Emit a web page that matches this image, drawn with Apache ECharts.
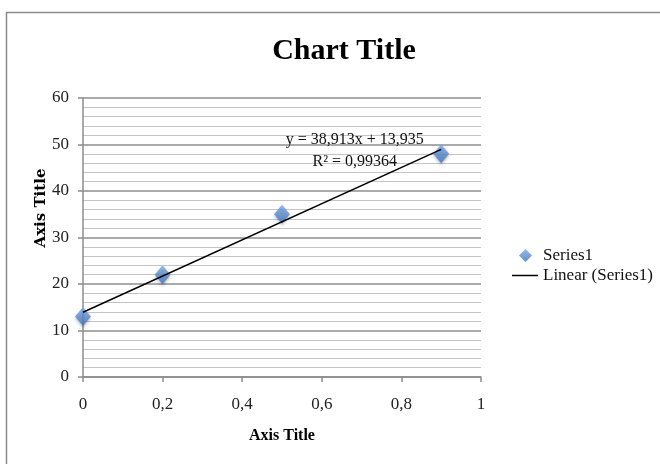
<!DOCTYPE html>
<html>
<head>
<meta charset="utf-8">
<script src="https://cdn.jsdelivr.net/npm/echarts@6/dist/echarts.min.js"></script>
<style>
  html, body { margin: 0; padding: 0; background: #fff; }
  #chart { width: 660px; height: 464px; }
</style>
</head>
<body>
<div id="chart"></div>
<script>
// ---- data ----
const xValues = [0, 0.2, 0.5, 0.9];
const yValues = [13, 22, 35, 48];
const xTickLabels = ['0', '0,2', '0,4', '0,6', '0,8', '1'];
const seriesName = 'Series1';
const trendName = 'Linear (Series1)';
const titleText = 'Chart Title';
const xAxisTitle = 'Axis Title';
const yAxisTitle = 'Axis Title';
const equationText = 'y = 38,913x + 13,935';
const r2Text = 'R\u00B2 = 0,99364';
const labelAnchor = [0.683, 48.6];

// least squares trendline from the data
const n = xValues.length;
const mx = xValues.reduce((a, b) => a + b, 0) / n;
const my = yValues.reduce((a, b) => a + b, 0) / n;
let sxy = 0, sxx = 0;
for (let i = 0; i < n; i++) {
  sxy += (xValues[i] - mx) * (yValues[i] - my);
  sxx += (xValues[i] - mx) * (xValues[i] - mx);
}
const slope = sxy / sxx;
const intercept = my - slope * mx;
const xMin = Math.min(...xValues), xMax = Math.max(...xValues);
const trendData = [[xMin, intercept + slope * xMin], [xMax, intercept + slope * xMax]];

const serif = '"Liberation Serif", "Times New Roman", serif';
const markerFill = new echarts.graphic.LinearGradient(0, 0, 0, 1, [
  { offset: 0, color: '#78a9e8' },
  { offset: 1, color: '#3d72c0' }
]);

const chart = echarts.init(document.getElementById('chart'), null, { renderer: 'canvas' });
chart.setOption({
  backgroundColor: '#ffffff',
  animation: false,
  graphic: [
    {
      type: 'rect',
      shape: { x: 6.5, y: 12.5, width: 700, height: 500 },
      style: { fill: 'none', stroke: '#8a8a8a', lineWidth: 1.5 },
      silent: true
    },
    {
      type: 'text',
      x: 41, y: 208,
      rotation: Math.PI / 2,
      style: {
        text: yAxisTitle,
        fontFamily: '"DejaVu Serif", serif', fontWeight: 'bold', fontSize: 15, fill: '#000',
        align: 'center', verticalAlign: 'middle'
      },
      silent: true
    }
  ],
  title: {
    text: titleText,
    left: 339,
    top: 31,
    textAlign: 'center',
    textStyle: { fontFamily: serif, fontWeight: 'bold', fontSize: 30, color: '#000' }
  },
  legend: [
    {
      orient: 'vertical',
      left: 519,
      top: 247,
      padding: 0,
      itemWidth: 13,
      itemHeight: 13,
      symbolKeepAspect: true,
      textStyle: { fontFamily: serif, fontSize: 17, color: '#111', padding: [0, 0, 0, 6] },
      data: [{ name: seriesName, icon: 'diamond' }]
    },
    {
      orient: 'vertical',
      left: 512,
      top: 267,
      padding: 0,
      itemWidth: 26,
      itemHeight: 1.5,
      symbolKeepAspect: false,
      textStyle: { fontFamily: serif, fontSize: 17, color: '#111' },
      data: [{ name: trendName, icon: 'path://M0,0 H26 V2 H0 Z', itemStyle: { color: '#000' } }]
    }
  ],
  grid: { left: 83, right: 179, top: 98, bottom: 87, containLabel: false },
  xAxis: {
    type: 'value',
    min: 0, max: 1, interval: 0.2,
    name: xAxisTitle,
    nameLocation: 'middle',
    nameGap: 51,
    nameTextStyle: { fontFamily: serif, fontWeight: 'bold', fontSize: 16, color: '#000' },
    axisLine: { show: true, lineStyle: { color: '#8c8c8c', width: 1.5 } },
    axisTick: { show: true, length: 5, inside: false, lineStyle: { color: '#8c8c8c', width: 1.5 } },
    axisLabel: {
      margin: 19,
      fontFamily: serif, fontSize: 17, color: '#222',
      formatter: function (v) { return xTickLabels[Math.round(v / 0.2)]; }
    },
    splitLine: { show: false }
  },
  yAxis: {
    type: 'value',
    min: 0, max: 60, interval: 10,
    axisLine: { show: true, lineStyle: { color: '#8c8c8c', width: 1.5 } },
    axisTick: { show: true, length: 5, inside: false, lineStyle: { color: '#8c8c8c', width: 1.5 } },
    axisLabel: { margin: 14, fontFamily: serif, fontSize: 17, color: '#222' },
    splitLine: { show: true, lineStyle: { color: '#8e8e8e', width: 1.5 } },
    minorTick: { show: false, splitNumber: 5 },
    minorSplitLine: { show: true, lineStyle: { color: '#c4c4c4', width: 1.2 } }
  },
  series: [
    {
      name: seriesName,
      type: 'scatter',
      symbol: 'diamond',
      symbolSize: [16, 19],
      z: 3,
      itemStyle: {
        color: markerFill,
        shadowColor: 'rgba(0,0,0,0.3)',
        shadowBlur: 3,
        shadowOffsetY: 2
      },
      data: xValues.map((x, i) => [x, yValues[i]])
    },
    {
      name: trendName,
      type: 'line',
      symbol: 'none',
      showSymbol: false,
      z: 4,
      lineStyle: { color: '#000', width: 1.5 },
      itemStyle: { color: '#000' },
      data: trendData,
      markPoint: {
        symbol: 'rect',
        symbolSize: 1,
        itemStyle: { color: 'rgba(0,0,0,0)' },
        label: {
          show: true,
          position: 'inside',
          formatter: equationText + '\n' + r2Text,
          fontFamily: serif, fontSize: 16, color: '#111',
          lineHeight: 22, align: 'center', verticalAlign: 'middle'
        },
        data: [{ coord: labelAnchor }]
      }
    }
  ]
});
</script>
</body>
</html>
